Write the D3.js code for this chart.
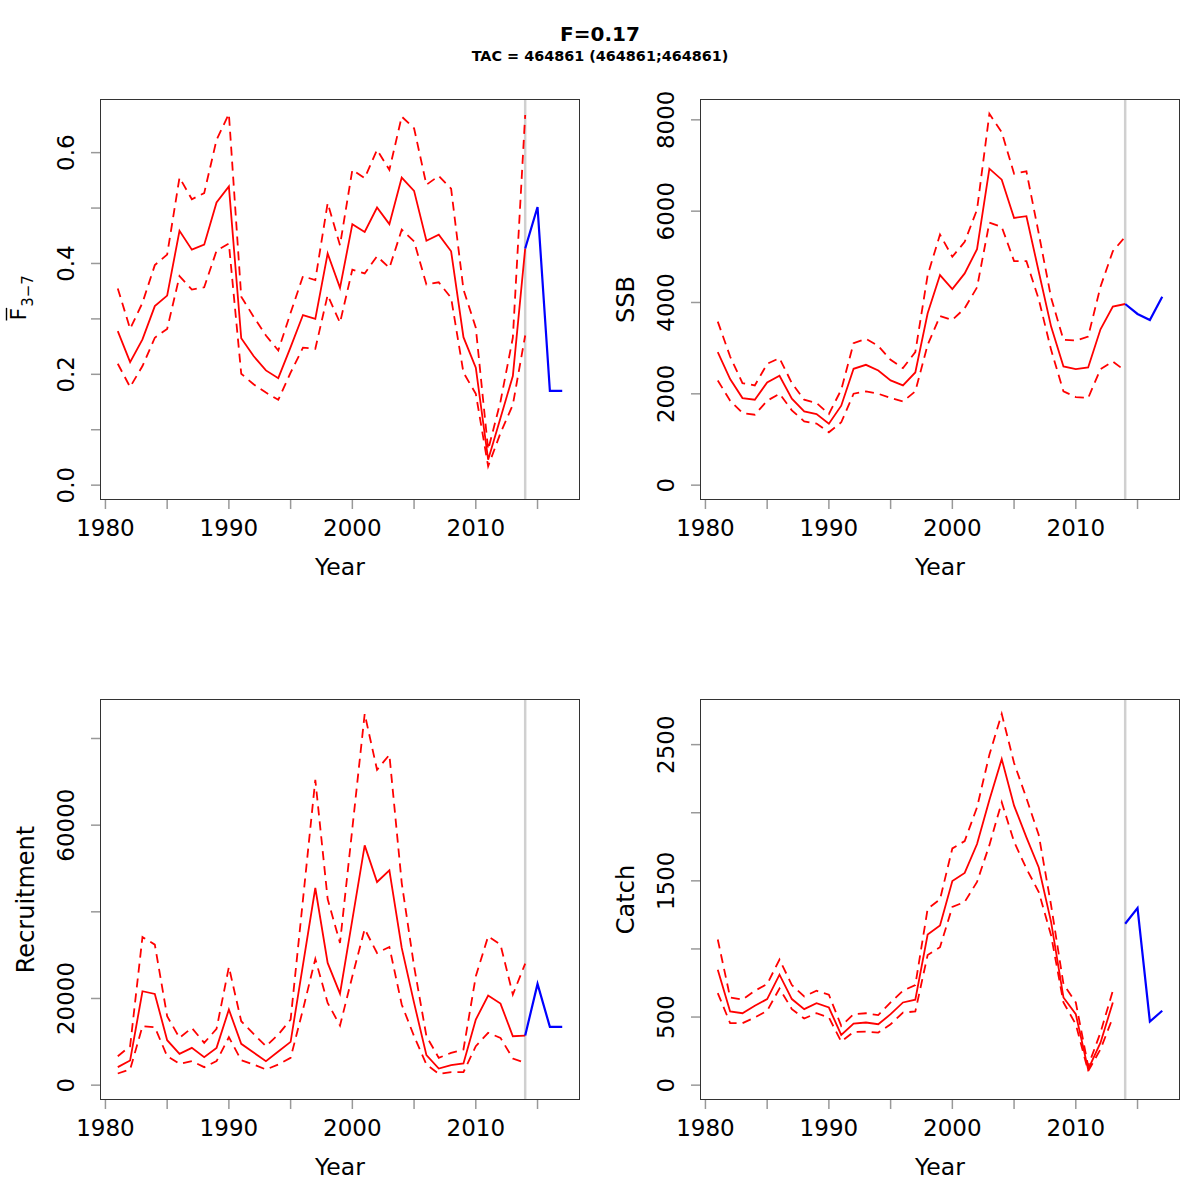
<!DOCTYPE html>
<html>
<head>
<meta charset="utf-8">
<script src="https://cdn.jsdelivr.net/npm/d3@7/dist/d3.min.js"></script>
<style>
  html, body { margin: 0; padding: 0; background: #fff; }
  svg text { font-family: "DejaVu Sans", sans-serif; }
</style>
</head>
<body>
<svg id="chart" width="1200" height="1200"></svg>
<script>
// ---------------- data ----------------
const histYears = [1981,1982,1983,1984,1985,1986,1987,1988,1989,1990,
                   1991,1992,1993,1994,1995,1996,1997,1998,1999,2000,
                   2001,2002,2003,2004,2005,2006,2007,2008,2009,2010,
                   2011,2012,2013,2014];
const catchYears = [1981,1982,1983,1984,1985,1986,1987,1988,1989,1990,
                    1991,1992,1993,1994,1995,1996,1997,1998,1999,2000,
                    2001,2002,2003,2004,2005,2006,2007,2008,2009,2010,
                    2011,2012,2013];
const projYears = [2014,2015,2016,2017];
const lastAssessYear = 2014;

const fMed = [0.278,0.222,0.263,0.323,0.342,0.459,0.425,0.434,0.510,0.539,
              0.265,0.233,0.207,0.193,0.249,0.307,0.300,0.418,0.356,0.471,
              0.457,0.501,0.471,0.555,0.531,0.441,0.452,0.422,0.267,0.212,
              0.046,0.121,0.197,0.427];
const fHi  = [0.355,0.282,0.329,0.397,0.416,0.555,0.516,0.527,0.623,0.670,
              0.340,0.304,0.270,0.243,0.311,0.377,0.370,0.509,0.433,0.569,
              0.554,0.605,0.569,0.665,0.644,0.542,0.558,0.535,0.353,0.284,
              0.064,0.151,0.266,0.668];
const fLo  = [0.219,0.177,0.215,0.266,0.282,0.377,0.353,0.357,0.423,0.436,
              0.201,0.182,0.167,0.154,0.203,0.248,0.246,0.343,0.293,0.389,
              0.382,0.413,0.392,0.461,0.440,0.362,0.366,0.338,0.203,0.165,
              0.034,0.094,0.145,0.270];
const fProj = [0.427,0.502,0.170,0.170];

const ssbMed = [2912,2322,1907,1871,2249,2395,1893,1616,1558,1347,
                1740,2548,2635,2511,2293,2184,2468,3763,4600,4295,
                4637,5168,6930,6689,5852,5889,4673,3472,2599,2540,
                2577,3414,3909,3967];
const ssbHi  = [3581,2817,2235,2184,2657,2781,2235,1871,1798,1558,
                2089,3108,3203,3050,2744,2562,2912,4600,5488,5001,
                5328,6034,8131,7730,6820,6871,5510,4105,3181,3166,
                3254,4346,5124,5437];
const ssbLo  = [2293,1849,1580,1543,1849,2002,1638,1398,1347,1157,
                1376,2002,2053,2002,1907,1834,2053,3072,3705,3618,
                3873,4331,5750,5656,4906,4906,4069,2963,2053,1929,
                1907,2540,2708,2504];
const ssbProj = [3967,3749,3618,4127];

const recMed = [4150,5687,21672,21057,10375,7224,8607,6455,8607,17445,
                9529,7531,5533,7762,9991,27743,45495,28204,21134,38194,
                55332,46878,49568,31662,18982,6917,3843,4611,4995,15139,
                20673,18828,11297,11451];
const recHi  = [6686,8991,34198,32431,15908,10913,13218,9760,12988,27282,
                14755,11835,8991,11681,15139,42800,70471,42959,32815,59250,
                85688,72777,76235,46648,27435,11297,6302,7454,8223,25130,
                34352,32431,20903,28050];
const recLo  = [2690,3612,13602,13372,6686,4918,5533,4150,5533,11066,
                5764,4765,3612,4765,6302,17445,29126,18982,13756,25130,
                36043,30509,31892,18598,11297,4765,2613,2997,2997,8991,
                12065,10913,6148,5149];
const recProj = [11451,23362,13449,13449];

const catchMed = [848,541,528,583,632,811,632,558,602,570,
                  369,452,460,447,521,607,627,1106,1172,1499,
                  1558,1770,2094,2394,2052,1819,1598,1197,644,521,
                  116,312,607];
const catchHi  = [1069,644,627,693,742,922,735,651,693,664,
                  435,521,528,514,607,693,735,1295,1364,1738,
                  1792,2040,2426,2726,2365,2107,1836,1320,742,607,
                  140,386,693];
const catchLo  = [676,455,455,497,546,710,558,489,528,497,
                  320,391,393,386,447,533,541,956,1013,1308,
                  1345,1492,1762,2077,1787,1590,1418,1099,607,447,
                  103,263,497];
const catchProj = [1185,1300,467,546];

const xTicks = [1980,1985,1990,1995,2000,2005,2010,2015];
const xTickText = ["1980","","1990","","2000","","2010",""];

const fTicks = [0,0.1,0.2,0.3,0.4,0.5,0.6];
const fTickText = ["0.0","","0.2","","0.4","","0.6"];
const ssbTicks = [0,2000,4000,6000,8000];
const ssbTickText = ["0","2000","4000","6000","8000"];
const recTicks = [0,20000,40000,60000,80000];
const recTickText = ["0","20000","","60000",""];
const catchTicks = [0,500,1000,1500,2000,2500];
const catchTickText = ["0","500","","1500","","2500"];

const mainTitle = "F=0.17";
const subTitle = "TAC = 464861 (464861;464861)";

// ---------------- layout ----------------
const svg = d3.select("#chart");
const W = 480, H = 401;
const lefts = [100, 700], tops = [99, 699];
const RED = "#ff0000", BLUE = "#0000ff";

svg.append("rect").attr("width",1200).attr("height",1200).attr("fill","#fff");

svg.append("text").attr("x",600).attr("y",40.5).attr("text-anchor","middle")
  .attr("font-size",20).attr("font-weight","bold").text(mainTitle);
svg.append("text").attr("x",600).attr("y",60.5).attr("text-anchor","middle")
  .attr("font-size",14.4).attr("font-weight","bold").text(subTitle);

const panels = [
  {col:0,row:0, years:histYears, med:fMed, hi:fHi, lo:fLo, proj:fProj, ticks:fTicks, tickText:fTickText, ylab:"F"},
  {col:1,row:0, years:histYears, med:ssbMed, hi:ssbHi, lo:ssbLo, proj:ssbProj, ticks:ssbTicks, tickText:ssbTickText, ylab:"SSB"},
  {col:0,row:1, years:histYears, med:recMed, hi:recHi, lo:recLo, proj:recProj, ticks:recTicks, tickText:recTickText, ylab:"Recruitment"},
  {col:1,row:1, years:catchYears, med:catchMed, hi:catchHi, lo:catchLo, proj:catchProj, ticks:catchTicks, tickText:catchTickText, ylab:"Catch"}
];

const xMin = d3.min(histYears.concat(projYears)), xMax = d3.max(histYears.concat(projYears));
const xPad = 0.04*(xMax-xMin);

panels.forEach(p => {
  const L = lefts[p.col], T = tops[p.row];
  const g = svg.append("g").attr("transform", `translate(${L},${T})`);
  const x = d3.scaleLinear().domain([xMin-xPad, xMax+xPad]).range([0, W]);
  const yMaxV = d3.max(p.hi.concat(p.proj));
  const yPad = 0.04*yMaxV;
  const y = d3.scaleLinear().domain([0-yPad, yMaxV+yPad]).range([H, 0]);

  // vertical line at final assessment year
  g.append("line").attr("x1",x(lastAssessYear)).attr("x2",x(lastAssessYear))
    .attr("y1",0).attr("y2",H).attr("stroke","#d0d0d0").attr("stroke-width",2.5);

  const line = d3.line().x(d=>x(d[0])).y(d=>y(d[1]));
  const pairs = arr => p.years.map((yr,i)=>[yr, arr[i]]);

  g.append("path").attr("d", line(pairs(p.hi))).attr("fill","none")
    .attr("stroke",RED).attr("stroke-width",1.8).attr("stroke-dasharray","9,6");
  g.append("path").attr("d", line(pairs(p.lo))).attr("fill","none")
    .attr("stroke",RED).attr("stroke-width",1.8).attr("stroke-dasharray","9,6");
  g.append("path").attr("d", line(pairs(p.med))).attr("fill","none")
    .attr("stroke",RED).attr("stroke-width",1.8);
  g.append("path").attr("d", line(projYears.map((yr,i)=>[yr,p.proj[i]]))).attr("fill","none")
    .attr("stroke",BLUE).attr("stroke-width",2.2);

  // box
  g.append("rect").attr("x",0.5).attr("y",0.5).attr("width",W-1).attr("height",H-1)
    .attr("fill","none").attr("stroke","#333").attr("stroke-width",1);

  // x axis
  const xa = g.append("g").attr("transform",`translate(0,${H})`);
  xTicks.forEach((t,i) => {
    xa.append("line").attr("x1",x(t)).attr("x2",x(t)).attr("y1",0).attr("y2",9)
      .attr("stroke","#999").attr("stroke-width",1.5);
    if (xTickText[i]) xa.append("text").attr("x",x(t)).attr("y",36)
      .attr("text-anchor","middle").attr("font-size",23).attr("fill","#000").text(xTickText[i]);
  });
  xa.append("text").attr("x",W/2).attr("y",75).attr("text-anchor","middle")
    .attr("font-size",23.5).text("Year");

  // y axis
  const ya = g.append("g");
  p.ticks.forEach((t,i) => {
    ya.append("line").attr("x1",-9).attr("x2",0).attr("y1",y(t)).attr("y2",y(t))
      .attr("stroke","#999").attr("stroke-width",1.5);
    if (p.tickText[i]) ya.append("text")
      .attr("transform",`translate(-26,${y(t)}) rotate(-90)`)
      .attr("text-anchor","middle").attr("font-size",23).text(p.tickText[i]);
  });

  if (p.ylab === "F") {
    const lg = ya.append("g").attr("transform",`translate(-74,${H/2}) rotate(-90)`);
    const fT = lg.append("text").attr("x",-21).attr("y",0).attr("font-size",22).text("F");
    const fw = fT.node().getComputedTextLength();
    lg.append("line").attr("x1",-21).attr("x2",-21+fw).attr("y1",-19.5).attr("y2",-19.5)
      .attr("stroke","#000").attr("stroke-width",1.4);
    lg.append("text").attr("x",-21+fw+1).attr("y",7).attr("font-size",15).text("3\u22127");
  } else {
    ya.append("text").attr("transform",`translate(-66.5,${H/2}) rotate(-90)`)
      .attr("text-anchor","middle").attr("font-size",24).text(p.ylab);
  }
});
</script>
</body>
</html>
